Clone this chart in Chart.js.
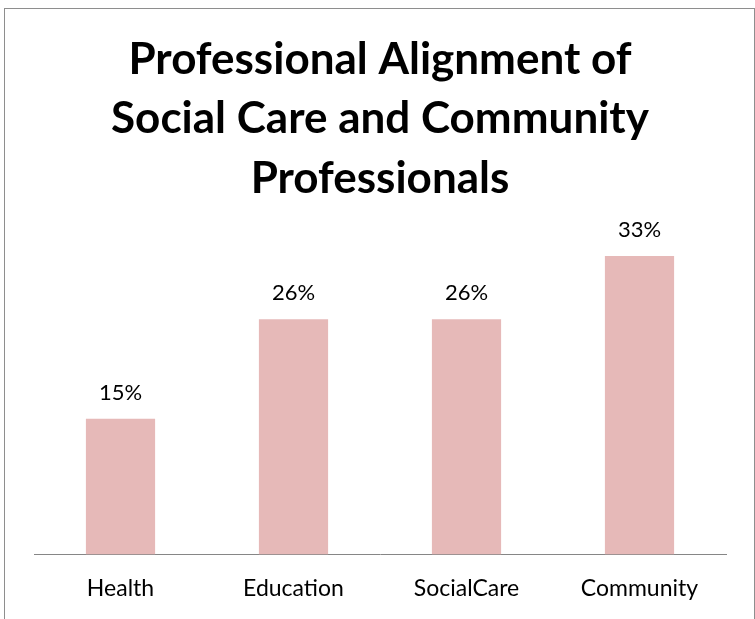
<!DOCTYPE html>
<html>
<head>
<meta charset="utf-8">
<script src="https://cdn.jsdelivr.net/npm/chart.js@4"></script>
<style>
  html, body { margin: 0; padding: 0; background: #fff; }
  #wrap { position: relative; width: 755px; height: 619px; overflow: hidden; }
  #frame { position: absolute; left: 4px; top: 8px; width: 749px; height: 700px; border: 1px solid #8e8e8e; }
  #chart { position: absolute; left: 0; top: 0; }
</style>
</head>
<body>
<div id="wrap">
  <div id="frame"></div>
  <canvas id="chart" width="755" height="619"></canvas>
</div>
<script>
// chart data
const categories = ["Health", "Education", "SocialCare", "Community"];
const shares = [15, 26, 26, 33];
const titleLines = ["Professional Alignment of", "Social Care and Community", "Professionals"];

const FONT = "Lato, 'Open Sans', sans-serif";

// draw the % labels above each bar
const barLabels = {
  id: "barLabels",
  afterDatasetsDraw(chart) {
    const ctx = chart.ctx;
    const meta = chart.getDatasetMeta(0);
    ctx.save();
    ctx.font = "22px " + FONT;
    ctx.fillStyle = "#000";
    ctx.textAlign = "center";
    ctx.textBaseline = "alphabetic";
    meta.data.forEach((bar, i) => {
      ctx.fillText(shares[i] + "%", bar.x, bar.y - 19);
    });
    ctx.restore();
  }
};

const ctx = document.getElementById("chart").getContext("2d");
new Chart(ctx, {
  type: "bar",
  data: {
    labels: categories,
    datasets: [{
      data: shares,
      backgroundColor: "#e6b9b8",
      borderWidth: 0,
      barPercentage: 0.4,
      categoryPercentage: 1
    }]
  },
  options: {
    responsive: false,
    animation: false,
    layout: { padding: { left: 34, right: 29, top: 0, bottom: 5 } },
    plugins: {
      legend: { display: false },
      tooltip: { enabled: false },
      title: {
        display: true,
        text: titleLines,
        color: "#000",
        font: { family: FONT, size: 44, weight: "bold", lineHeight: 1.352 },
        padding: { top: 30, bottom: 29.5 }
      }
    },
    scales: {
      x: {
        grid: { display: false },
        border: { display: true, color: "#868686", width: 1 },
        ticks: { color: "#000", font: { family: FONT, size: 23 }, padding: 12 }
      },
      y: {
        display: false,
        min: 0,
        max: 35
      }
    }
  },
  plugins: [barLabels]
});
</script>
</body>
</html>
